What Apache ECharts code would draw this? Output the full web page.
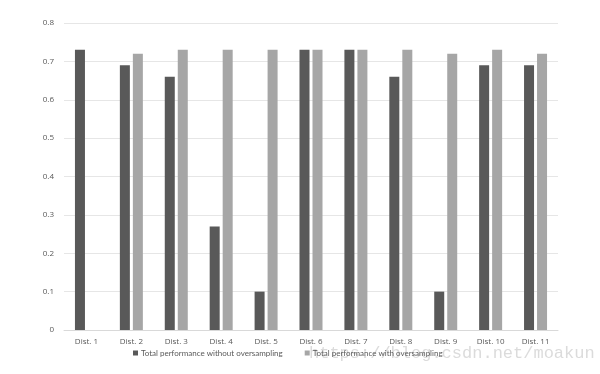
<!DOCTYPE html>
<html><head><meta charset="utf-8">
<script src="https://cdn.jsdelivr.net/npm/echarts@6/dist/echarts.min.js"></script>
<style>html,body{margin:0;padding:0;background:#fff}#c{width:600px;height:374px}</style>
</head><body><div id="c"></div>
<script>
var categories = ['Dist. 1','Dist. 2','Dist. 3','Dist. 4','Dist. 5','Dist. 6','Dist. 7','Dist. 8','Dist. 9','Dist. 10','Dist. 11'];
var seriesNames = ['Total performance without oversampling','Total performance with oversampling'];
var withoutOversampling = [0.73,0.69,0.66,0.27,0.10,0.73,0.73,0.66,0.10,0.69,0.69];
var withOversampling = [null,0.72,0.73,0.73,0.73,0.73,0.73,0.73,0.72,0.73,0.72];
var yTicks = [0,0.1,0.2,0.3,0.4,0.5,0.6,0.7,0.8];

var chart = echarts.init(document.getElementById('c'), null, {renderer:'canvas'});
chart.setOption({
  animation:false,
  backgroundColor:'#fff',
  textStyle:{fontFamily:'"Open Sans", "DejaVu Sans", sans-serif'},
  grid:{left:64,right:42,top:23,bottom:44,containLabel:false},
  legend:{
    bottom:12,left:128,itemWidth:5,itemHeight:5,itemGap:22,icon:'rect',
    textStyle:{fontSize:8,fontFamily:'Lato, "Open Sans", sans-serif',color:'#595959',padding:[0,0,0,-2]},
    data:seriesNames
  },
  xAxis:{
    type:'category',data:categories,
    axisLine:{lineStyle:{color:'#d9d9d9'}},
    axisTick:{show:false},
    axisLabel:{fontSize:8,color:'#595959',margin:8}
  },
  yAxis:{
    type:'value',min:yTicks[0],max:yTicks[yTicks.length-1],interval:0.1,
    axisLine:{show:false},axisTick:{show:false},
    splitLine:{lineStyle:{color:'#e6e6e6'}},
    axisLabel:{fontSize:8,color:'#595959',margin:10,formatter:function(v){return String(Math.round(v*10)/10);}}
  },
  series:[
    {name:seriesNames[0],type:'bar',data:withoutOversampling,barWidth:10,barGap:'30%',
     itemStyle:{color:'#595959'}},
    {name:seriesNames[1],type:'bar',data:withOversampling,barWidth:10,
     itemStyle:{color:'#a6a6a6'}}
  ],
  graphic:[{type:'text',left:309,top:345,silent:true,
    style:{text:'https://blog.csdn.net/moakun',font:'17px "Liberation Mono", monospace',fill:'rgba(190,190,190,0.55)'}}]
});
</script></body></html>
